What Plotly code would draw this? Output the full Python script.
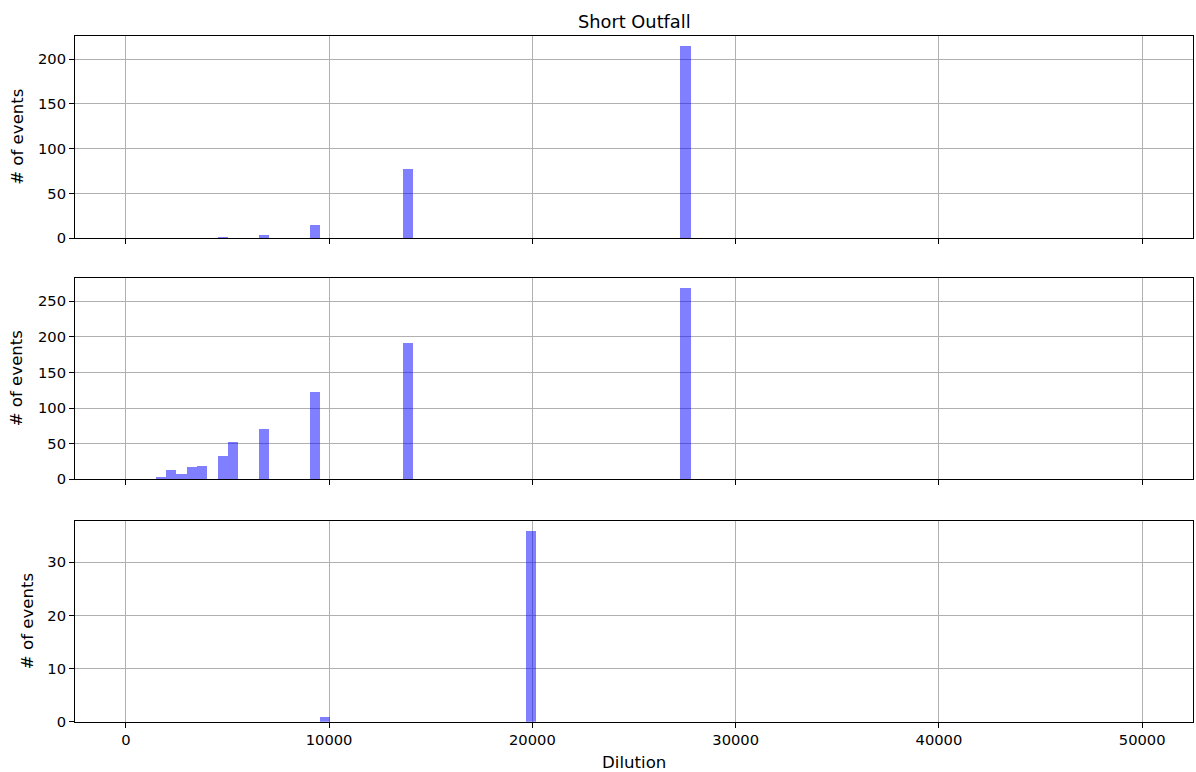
import plotly.graph_objects as go
from plotly.subplots import make_subplots

# ---- data ----
top_x = [4764, 6787, 9317, 13872, 27540]
top_y = [1, 4, 15, 77, 215]

mid_x = [1222, 1728, 2234, 2740, 3246, 3752, 4764, 5270, 6787, 9317, 13872, 27540]
mid_y = [1, 3, 13, 7, 17, 19, 33, 52, 70, 123, 191, 269]

bot_x = [9806, 19938]
bot_y = [1, 36]

bin_width_top = 506
bin_width_bot = 526

x_ticks = [0, 10000, 20000, 30000, 40000, 50000]
x_tick_text = ["0", "10000", "20000", "30000", "40000", "50000"]
title_text = "Short Outfall"
x_label = "Dilution"
y_label = "# of events"

W, H = 1196, 772
L, R, T, B = 75, 3, 36, 50
ph = H - T - B  # plot height in px


def frac(y_top_px, y_bot_px):
    return [(H - B - y_bot_px) / ph, (H - B - y_top_px) / ph]


fig = make_subplots(rows=3, cols=1, shared_xaxes=True)
bar_color = "rgba(0,0,255,0.5)"

fig.add_trace(go.Bar(x=top_x, y=top_y, width=bin_width_top, marker_color=bar_color,
                     marker_line_width=0), row=1, col=1)
fig.add_trace(go.Bar(x=mid_x, y=mid_y, width=bin_width_top, marker_color=bar_color,
                     marker_line_width=0), row=2, col=1)
fig.add_trace(go.Bar(x=bot_x, y=bot_y, width=bin_width_bot, marker_color=bar_color,
                     marker_line_width=0), row=3, col=1)

font = dict(family="DejaVu Sans", size=14.7, color="black")
label_font = dict(family="DejaVu Sans", size=16.6, color="black")

axis_common = dict(showline=True, linecolor="black", linewidth=1, mirror=True,
                   ticks="outside", ticklen=5, tickcolor="black", tickwidth=1,
                   showgrid=True, gridcolor="#b0b0b0", gridwidth=1, zeroline=False,
                   tickfont=font)

doms = [frac(36, 238.3), frac(278, 479.3), frac(520.7, 721.7)]
yranges = [[0, 215 * 1.05], [0, 269 * 1.05], [0, 36 * 1.05]]
yticks = [[0, 50, 100, 150, 200], [0, 50, 100, 150, 200, 250], [0, 10, 20, 30]]

for i in range(3):
    fig.update_yaxes(row=i + 1, col=1, domain=doms[i], range=yranges[i],
                     tickvals=yticks[i], ticktext=[str(v) for v in yticks[i]],
                     **axis_common)
    fig.update_xaxes(row=i + 1, col=1, range=[-2500, 52500], tickvals=x_ticks,
                     ticktext=x_tick_text, showticklabels=(i == 2), **axis_common)

annotations = [
    dict(text=title_text, x=0.5, xref="paper", y=1, yref="paper", yanchor="middle",
         yshift=15, showarrow=False, font=dict(family="DejaVu Sans", size=17.8, color="black")),
    dict(text=x_label, x=0.5, xref="paper", y=0, yref="paper", yanchor="middle",
         yshift=-(762 - (H - B)), showarrow=False, font=label_font),
]
ylab_x = [16.7, 16.7, 27]
for i in range(3):
    d = doms[i]
    annotations.append(dict(text=y_label, x=0, xref="paper", xanchor="center",
                            xshift=ylab_x[i] - L, y=(d[0] + d[1]) / 2, yref="paper",
                            yanchor="middle", textangle=-90, showarrow=False, font=label_font))

fig.update_layout(width=W, height=H, margin=dict(l=L, r=R, t=T, b=B),
                  plot_bgcolor="white", paper_bgcolor="white", showlegend=False,
                  bargap=0, annotations=annotations, font=font)

fig.write_html("out.html")
